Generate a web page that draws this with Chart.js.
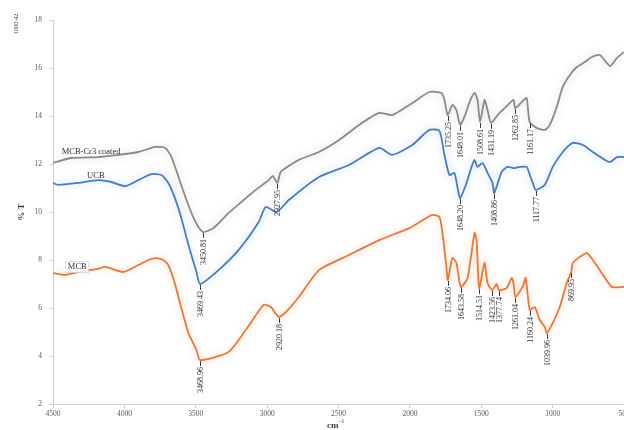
<!DOCTYPE html>
<html>
<head>
<meta charset="utf-8">
<script src="https://cdn.jsdelivr.net/npm/chart.js@4.4.1/dist/chart.umd.min.js"></script>
<style>
  html, body { margin: 0; padding: 0; background: #ffffff; }
  #wrap { width: 624px; height: 430px; }
</style>
</head>
<body>
<div id="wrap"><canvas id="c" width="624" height="430"></canvas></div>
<script>
// FTIR spectra: wavenumber (cm-1) against transmittance (% T)
const xTicks = [4500, 4000, 3500, 3000, 2500, 2000, 1500, 1000, 500];
const yTicks = [2, 4, 6, 8, 10, 12, 14, 16, 18];

const seriesNames = ['MCB-Cr3 coated', 'UCB', 'MCB'];

// MCB-Cr3 coated
const coatedWave = [4500, 4373, 4184, 4043, 3902, 3783, 3713, 3670, 3621, 3565, 3509, 3450.81,
  3375, 3270, 3164, 3080, 2989, 2960, 2927.95, 2904, 2778, 2637, 2496, 2356, 2215, 2124,
  1983, 1864, 1779, 1758, 1735.25, 1702, 1674, 1648.01, 1618, 1582, 1547, 1526, 1508.61,
  1477, 1456, 1431.19, 1385, 1350, 1301, 1273, 1262.85, 1217, 1182, 1161.17, 1111, 1055,
  1020, 971, 929, 879, 830, 774, 725, 669, 598, 549, 500];
const coatedT = [12.04, 12.25, 12.29, 12.38, 12.5, 12.71, 12.67, 12.29, 11.46, 10.5, 9.67, 9.17,
  9.33, 9.96, 10.5, 10.92, 11.33, 11.5, 11.21, 11.67, 12.17, 12.5, 13.0, 13.63, 14.13, 14.04,
  14.54, 15.0, 14.96, 14.67, 14.04, 14.46, 14.25, 13.63, 13.96, 14.58, 14.96, 14.67, 13.75,
  14.67, 14.25, 13.71, 14.04, 14.25, 14.54, 14.67, 14.33, 14.58, 14.75, 13.75, 13.5, 13.42,
  13.63, 14.38, 15.21, 15.71, 16.04, 16.25, 16.46, 16.54, 16.08, 16.42, 16.67];
const coatedPeaks = [3450.81, 2927.95, 1735.25, 1648.01, 1508.61, 1431.19, 1262.85, 1161.17];

// UCB
const ucbWave = [4500, 4465, 4324, 4184, 4092, 3994, 3902, 3811, 3741, 3692, 3649, 3607, 3551,
  3495, 3469.43, 3340, 3199, 3059, 3010, 2932, 2848, 2637, 2426, 2215, 2124, 1983, 1864,
  1793, 1758, 1723, 1688, 1667, 1648.20, 1603, 1568, 1547, 1526, 1491, 1456, 1421, 1408.86,
  1357, 1315, 1266, 1231, 1182, 1160, 1139, 1117.77, 1055, 999, 929, 858, 788, 718, 633,
  598, 549, 500];
const ucbT = [11.21, 11.13, 11.21, 11.33, 11.25, 11.08, 11.33, 11.58, 11.54, 11.21, 10.63, 9.88, 8.63,
  7.5, 7.0, 7.58, 8.42, 9.58, 10.21, 10.0, 10.5, 11.46, 11.96, 12.67, 12.38, 12.79, 13.42,
  13.38, 12.38, 11.54, 11.63, 11.04, 10.58, 11.21, 11.88, 12.17, 11.88, 12.04, 11.63, 11.21, 10.79,
  11.67, 11.88, 11.83, 11.88, 11.88, 11.54, 11.21, 10.92, 11.13, 11.88, 12.5, 12.88, 12.79, 12.5, 12.17,
  12.08, 12.29, 12.29];
const ucbPeaks = [3469.43, 1648.20, 1408.86, 1117.77];

// MCB
const mcbWave = [4500, 4416, 4324, 4184, 4134, 4008, 3902, 3832, 3783, 3727, 3692, 3649, 3607,
  3551, 3495, 3468.96, 3270, 3150, 3024, 2974, 2920.18, 2869, 2778, 2637, 2426, 2215, 2004,
  1843, 1793, 1772, 1744, 1734.06, 1702, 1674, 1643.58, 1596, 1547, 1533, 1514.51, 1477,
  1456, 1423.56, 1392, 1377.74, 1322, 1287, 1273, 1261.04, 1210, 1189, 1160.24, 1125, 1090,
  1055, 1039.96, 999, 950, 901, 869.95, 858, 809, 760, 718, 647, 584, 500];
const mcbT = [7.46, 7.38, 7.5, 7.63, 7.71, 7.5, 7.79, 8.0, 8.08, 8.0, 7.79, 7.08, 6.13,
  4.96, 4.25, 3.83, 4.17, 5.08, 6.13, 6.04, 5.63, 5.83, 6.46, 7.58, 8.21, 8.83, 9.33,
  9.88, 9.79, 9.13, 7.71, 7.17, 8.08, 7.88, 6.88, 7.25, 9.13, 8.83, 6.83, 7.88,
  7.04, 6.75, 7.0, 6.75, 6.83, 7.25, 7.0, 6.46, 6.88, 7.25, 5.92, 6.04, 5.5,
  5.21, 4.96, 5.38, 6.04, 7.04, 7.5, 7.88, 8.13, 8.29, 8.0, 7.38, 6.88, 6.88];
const mcbPeaks = [3468.96, 2920.18, 1734.06, 1643.58, 1514.51, 1423.56, 1377.74, 1261.04, 1160.24, 1039.96, 869.95];

// where each series name sits, in axis units
const nameAnchors = [[4233, 12.5], [4200, 11.5], [4330, 7.7]];

const toPoints = (xs, ys) => xs.map((x, i) => ({ x: x, y: ys[i] }));

const SERIF = '"Liberation Serif", "DejaVu Serif", serif';
const TICK_COLOR = '#595959';
const AXIS_COLOR = '#d0d0d0';

const glowPlugin = {
  id: 'lineGlow',
  beforeDatasetDraw(chart, args) {
    const ds = chart.data.datasets[args.index];
    const ctx = chart.ctx;
    ctx.save();
    ctx.shadowColor = ds.glowColor;
    ctx.shadowBlur = 8;
  },
  afterDatasetDraw(chart) {
    chart.ctx.restore();
  }
};

const annotatePlugin = {
  id: 'annotate',
  afterDatasetsDraw(chart) {
    const ctx = chart.ctx;
    const xs = chart.scales.x, ys = chart.scales.y;
    chart.data.datasets.forEach((ds, i) => {
      const meta = chart.getDatasetMeta(i);
      // peak wavenumber labels, hanging below each band
      ds.peaks.forEach(p => {
        const idx = ds.data.findIndex(d => d.x === p);
        if (idx < 0) return;
        const el = meta.data[idx];
        const px = Math.round(el.x) + 0.5;
        ctx.save();
        ctx.strokeStyle = '#3a3a3a';
        ctx.lineWidth = 1;
        ctx.beginPath();
        ctx.moveTo(px, el.y + 1);
        ctx.lineTo(px, el.y + 6);
        ctx.stroke();
        ctx.translate(px, el.y + 7);
        ctx.rotate(-Math.PI / 2);
        ctx.font = '8px ' + SERIF;
        ctx.fillStyle = '#303030';
        ctx.textAlign = 'right';
        ctx.textBaseline = 'middle';
        ctx.fillText(p.toFixed(2), 0, 0);
        ctx.restore();
      });
      // series name on its line
      const a = nameAnchors[i];
      const nx = xs.getPixelForValue(a[0]);
      const ny = ys.getPixelForValue(a[1]);
      ctx.save();
      ctx.font = '8.5px ' + SERIF;
      ctx.textAlign = 'center';
      ctx.textBaseline = 'middle';
      if (ds.boxedName) {
        const w = ctx.measureText(ds.label).width;
        ctx.fillStyle = 'rgba(255,255,255,0.85)';
        ctx.fillRect(nx - w / 2 - 2, ny - 5.5, w + 4, 11);
        ctx.strokeStyle = '#c9c9c9';
        ctx.lineWidth = 0.6;
        ctx.strokeRect(nx - w / 2 - 2, ny - 5.5, w + 4, 11);
      }
      ctx.fillStyle = '#303030';
      ctx.fillText(ds.label, nx, ny);
      ctx.restore();
    });
  },
  afterDraw(chart) {
    const ctx = chart.ctx;
    ctx.save();
    ctx.fillStyle = '#404040';
    // y axis title
    ctx.save();
    ctx.translate(22, 212);
    ctx.rotate(-Math.PI / 2);
    ctx.font = 'bold 9px ' + SERIF;
    ctx.textAlign = 'center';
    ctx.textBaseline = 'middle';
    ctx.fillText('% T', 0, 0);
    ctx.restore();
    // stray value at the top of the axis
    ctx.save();
    ctx.translate(16, 24);
    ctx.rotate(-Math.PI / 2);
    ctx.font = '6.5px ' + SERIF;
    ctx.textAlign = 'center';
    ctx.textBaseline = 'middle';
    ctx.fillText('1000.42', 0, 0);
    ctx.restore();
    // x axis title cm-1
    ctx.font = 'bold 9px ' + SERIF;
    ctx.textAlign = 'left';
    ctx.textBaseline = 'alphabetic';
    ctx.fillText('cm', 327, 428);
    const cw = ctx.measureText('cm').width;
    ctx.font = '6.5px ' + SERIF;
    ctx.fillText('-1', 327 + cw + 0.5, 423);
    ctx.restore();
  }
};

new Chart(document.getElementById('c'), {
  type: 'scatter',
  data: {
    datasets: [
      {
        label: seriesNames[0],
        data: toPoints(coatedWave, coatedT),
        peaks: coatedPeaks,
        borderColor: '#8a8a8a',
        glowColor: 'rgba(150,150,150,0.45)',
        borderWidth: 1.8,
        showLine: true,
        pointRadius: 0,
        tension: 0.2
      },
      {
        label: seriesNames[1],
        data: toPoints(ucbWave, ucbT),
        peaks: ucbPeaks,
        borderColor: '#4a7cc0',
        glowColor: 'rgba(90,150,220,0.45)',
        borderWidth: 1.8,
        showLine: true,
        pointRadius: 0,
        tension: 0.2
      },
      {
        label: seriesNames[2],
        data: toPoints(mcbWave, mcbT),
        peaks: mcbPeaks,
        boxedName: true,
        borderColor: '#e8773a',
        glowColor: 'rgba(245,150,80,0.45)',
        borderWidth: 1.8,
        showLine: true,
        pointRadius: 0,
        tension: 0.2
      }
    ]
  },
  options: {
    responsive: false,
    animation: false,
    devicePixelRatio: 1,
    layout: { padding: { top: 20, left: 0, right: 0, bottom: 0 } },
    plugins: {
      legend: { display: false },
      tooltip: { enabled: false }
    },
    scales: {
      x: {
        type: 'linear',
        reverse: true,
        min: 500,
        max: 4500,
        afterBuildTicks(scale) { scale.ticks = xTicks.map(v => ({ value: v })); },
        ticks: {
          font: { family: SERIF, size: 7.5 },
          color: TICK_COLOR,
          padding: 2,
          maxRotation: 0,
          autoSkip: false,
          callback: v => String(v)
        },
        grid: { drawOnChartArea: false, drawTicks: true, tickLength: 4, color: AXIS_COLOR },
        border: { color: AXIS_COLOR },
        afterFit(scale) { scale.height = 26; scale.paddingLeft = 0; scale.paddingRight = 0; }
      },
      y: {
        type: 'linear',
        min: 2,
        max: 18,
        afterBuildTicks(scale) { scale.ticks = yTicks.map(v => ({ value: v })); },
        ticks: {
          font: { family: SERIF, size: 7.5 },
          color: TICK_COLOR,
          padding: 7,
          callback: v => String(v)
        },
        grid: { drawOnChartArea: false, drawTicks: true, tickLength: 4, color: AXIS_COLOR },
        border: { color: AXIS_COLOR },
        afterFit(scale) { scale.width = 53; scale.paddingTop = 0; scale.paddingBottom = 0; }
      }
    }
  },
  plugins: [glowPlugin, annotatePlugin]
});
</script>
</body>
</html>
